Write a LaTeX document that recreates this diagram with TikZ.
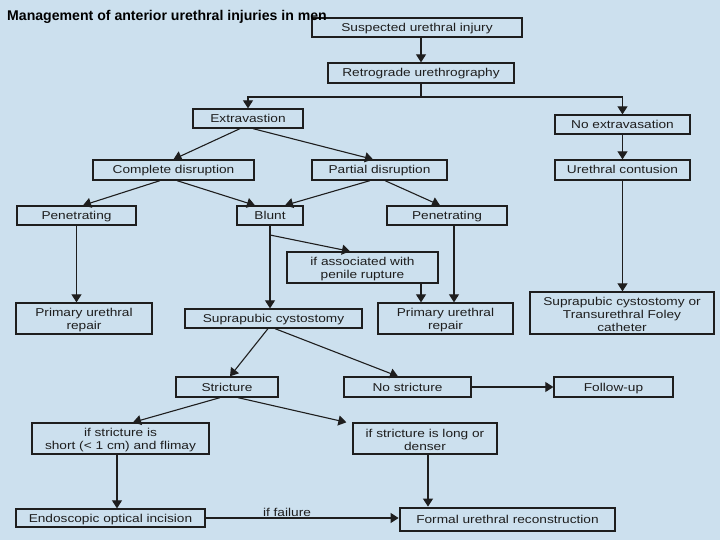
\documentclass[tikz,border=0pt]{standalone}
\usepackage{fontspec}
\setmainfont{Liberation Sans}
\newfontfamily\boxfont[FakeStretch=1.2]{Liberation Sans}
\newfontfamily\titlefont{Liberation Sans}
\usetikzlibrary{arrows.meta}
\definecolor{bgblue}{RGB}{204,224,238}
\definecolor{ink}{RGB}{30,30,30}
\newcommand{\topstrut}{\rule{0pt}{11.5pt}}
\begin{document}
\begin{tikzpicture}[x=1pt,y=-1pt,
  box/.style={draw=ink, line width=1.3pt, inner sep=0pt, align=center,
    font=\boxfont\fontsize{11.4}{13}\selectfont, text=ink},
  sline/.style={box, text height=8pt, text depth=0pt},
  arr/.style={draw=ink, line width=1.1pt, -{Triangle[width=10pt,length=8pt]}},
  ln/.style={draw=ink, line width=1.1pt}]
\fill[bgblue] (0,0) rectangle (720,540);
\useasboundingbox (0,0) rectangle (720,540);

\node[sline, minimum width=210pt, minimum height=19pt] (sus) at (417,27.5) {Suspected urethral injury};
\node[anchor=base west, font=\titlefont\bfseries\fontsize{14.1}{16}\selectfont, inner sep=0pt, text=black] (title) at (7,21) {Management of anterior urethral injuries in men};
\node[sline, minimum width=186pt, minimum height=20pt] (retro) at (421,73) {Retrograde urethrography};
\node[sline, minimum width=110pt, minimum height=19pt] (extra) at (248,118.5) {Extravastion};
\node[sline, minimum width=135pt, minimum height=19pt] (noext) at (622.5,124.5) {No extravasation};
\node[sline, minimum width=135pt, minimum height=20pt] (contu) at (622.5,170) {Urethral contusion};
\node[sline, minimum width=161pt, minimum height=20pt] (compl) at (173.5,170) {Complete disruption};
\node[sline, minimum width=135pt, minimum height=20pt] (partial) at (379.5,170) {Partial disruption};
\node[sline, minimum width=119pt, minimum height=19pt] (penL) at (76.5,215.5) {Penetrating};
\node[sline, minimum width=66pt, minimum height=19pt] (blunt) at (270,215.5) {Blunt};
\node[sline, minimum width=120pt, minimum height=19pt] (penR) at (447,215.5) {Penetrating};
\node[box, minimum width=151pt, minimum height=31pt] (assoc) at (362.5,267.5) {\topstrut if associated with\\penile rupture};
\node[box, minimum width=136pt, minimum height=31pt] (repL) at (84,318.5) {\topstrut Primary urethral\\repair};
\node[sline, minimum width=177pt, minimum height=19pt] (supra) at (273.5,318.5) {Suprapubic cystostomy};
\node[box, minimum width=135pt, minimum height=31pt] (repR) at (445.5,318.5) {\topstrut Primary urethral\\repair};
\node[box, minimum width=184pt, minimum height=42pt] (foley) at (622,313) {\topstrut Suprapubic cystostomy or\\Transurethral Foley\\catheter};
\node[sline, minimum width=102pt, minimum height=20pt] (strict) at (227,387) {Stricture};
\node[sline, minimum width=127pt, minimum height=20pt] (nostr) at (407.5,387) {No stricture};
\node[sline, minimum width=119pt, minimum height=20pt] (follow) at (613.5,387) {Follow-up};
\node[box, minimum width=177pt, minimum height=31pt] (short) at (120.5,438.5) {\topstrut if stricture is\\short (< 1 cm) and flimay};
\node[box, minimum width=144pt, minimum height=31pt] (long) at (425,438.5) {\topstrut if stricture is long or\\denser};
\node[sline, minimum width=189pt, minimum height=18pt] (endo) at (110.5,518) {Endoscopic optical incision};
\node[sline, line width=2.8pt, minimum width=215pt, minimum height=23pt] (formal) at (507.5,519.5) {Formal urethral reconstruction};
\node[anchor=base, inner sep=0pt, font=\boxfont\fontsize{11.4}{13}\selectfont, text=ink] (fail) at (287,516) {if failure};

\coordinate (rsplit) at (421,97);
\coordinate (bj) at (270,235);

\draw[arr] (retro.north |- sus.south) -- (retro.north);
\draw[ln] (retro.south) -- (rsplit);
\draw[arr] (rsplit) -| (extra.north);
\draw[arr] (rsplit) -| (noext.north);
\draw[arr] (noext.south) -- (contu.north);
\draw[arr] ([xshift=-8pt]extra.south) -- (compl.north);
\draw[arr] ([xshift=5pt]extra.south) -- ([xshift=-6.5pt]partial.north);
\draw[arr] ([xshift=-13.5pt]compl.south) -- ([xshift=6.5pt]penL.north);
\draw[arr] ([xshift=3.5pt]compl.south) -- ([xshift=-15pt]blunt.north);
\draw[arr] ([xshift=-9.5pt]partial.south) -- ([xshift=15pt]blunt.north);
\draw[arr] ([xshift=5.5pt]partial.south) -- ([xshift=-7pt]penR.north);
\draw[arr] (blunt.south) -- (blunt.south |- supra.north);
\draw[arr] (bj) -- ([xshift=-12.5pt]assoc.north);
\draw[arr] ([xshift=58.5pt]assoc.south) -- ([xshift=58.5pt]assoc.south |- repR.north);
\draw[arr] ([xshift=7pt]penR.south) -- ([xshift=7pt]penR.south |- repR.north);
\draw[arr] (penL.south) -- (penL.south |- repL.north);
\draw[arr] (contu.south) -- (contu.south |- foley.north);
\draw[arr] ([xshift=-5.5pt]supra.south) -- ([xshift=3pt]strict.north);
\draw[arr] ([xshift=1.5pt]supra.south) -- ([xshift=-9.5pt]nostr.north);
\draw[arr] (nostr.east) -- (follow.west);
\draw[arr] ([xshift=-7pt]strict.south) -- ([xshift=12.5pt]short.north);
\draw[arr] ([xshift=11pt]strict.south) -- ([xshift=-6pt]long.north west);
\draw[arr] ([xshift=-3.5pt]short.south) -- ([xshift=-3.5pt]short.south |- endo.north);
\draw[arr] ([xshift=3pt]long.south) -- ([xshift=3pt]long.south |- formal.north);
\draw[arr] (endo.east) -- (endo.east -| formal.west);
\end{tikzpicture}
\end{document}
